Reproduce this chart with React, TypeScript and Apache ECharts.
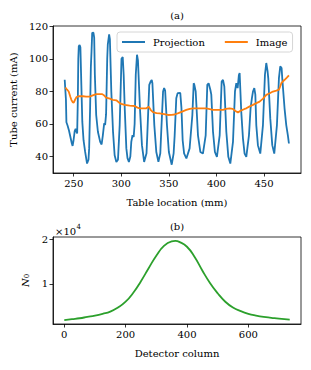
import React, { useEffect, useRef } from "react";
import * as echarts from "echarts";

// ---- Panel (a): tube current vs table location ----
const projX = [
  240.5, 241.2, 241.8, 242.3, 243.5, 245, 246.5, 248, 248.8, 249.8, 251, 252, 253, 253.6, 254.3, 254.8, 255.3, 256.2, 257, 258,
  259, 260.3, 262, 264, 265.5, 266.2, 267.2, 268, 268.7, 269.4, 270.7, 271.5, 272.2, 273.6, 275.4, 277.8, 279.3, 280.6, 282, 283,
  284, 285.2, 285.8, 287.2, 288, 289.5, 291.3, 293, 294.8, 296.5, 298.3, 300.2, 301.5, 302.5, 303.6, 305.3, 306.5, 308, 309.5, 310.5,
  311.8, 313, 314, 315.2, 316.5, 317.5, 319.6, 321.7, 324, 326.5, 327.3, 329.4, 330.8, 332, 332.7, 334.7, 336.8, 339, 341, 341.8,
  343.9, 345, 346.1, 348, 350, 353, 355, 356.1, 357.8, 359.2, 362, 363.2, 364.5, 366, 368.4, 371.8, 374.7, 376.1, 376.8, 378.2,
  380.6, 383.1, 385.8, 388.7, 390.4, 391.8, 393.6, 394.6, 396.4, 398.4, 400.5, 403.4, 405.5, 406.9, 408.3, 410.4, 412.5, 414.6, 417.4, 419.5,
  420.9, 422.3, 423.6, 424.4, 426.1, 427.9, 429.6, 431.4, 434.2, 435.9, 437.3, 438.4, 439.8, 440.9, 441.9, 443.6, 446.1, 448.9, 451, 452.4,
  453.8, 454.5, 456.6, 458.7, 460.8, 463.6, 465.7, 467.1, 468.5, 469.2, 471.6, 473.4, 475.1, 476.2,
];
const projY = [
  87.1, 87, 75, 61, 59, 56, 52, 48, 46.5, 50, 55.6, 57, 55, 54.2, 75, 100, 107.7, 108.5, 107, 84,
  61.4, 50, 42.8, 35.7, 38, 45, 69.6, 95, 104.6, 115.9, 116, 113, 90.2, 65.5, 55.2, 49, 47.4, 53, 60.4, 59.4,
  66, 100, 108.7, 114.9, 112, 79.9, 55.2, 40.8, 36.7, 38, 59.3, 100, 101, 90, 69.6, 45, 39, 36.7, 40, 49,
  53.1, 52, 60, 90.2, 102.5, 99, 69.6, 47, 36.7, 42, 53, 84, 86, 87, 85, 59.3, 42.8, 36.7, 42, 53,
  79.9, 82, 80.4, 59.3, 42.8, 35, 42, 53, 75.8, 78.9, 79, 70, 50, 42, 38.8, 45, 65.5, 85, 84, 79.9,
  53, 42.8, 41.8, 53, 84, 85, 81, 78, 55.2, 42.8, 39.8, 53, 86, 87, 83, 55.2, 39.8, 35.7, 49, 79.9,
  85, 82, 90, 91.2, 67.5, 51, 41.8, 39.8, 53, 69.6, 75.8, 79.9, 82, 78, 59.3, 47, 41.8, 59.3, 90.2, 97.4,
  92.2, 88, 63.4, 47, 41.8, 59.3, 88.1, 95.3, 94.3, 88, 69.6, 59.3, 53, 48,
];
const imageX = [
  241.2, 243, 244.7, 246.5, 247.5, 249, 250, 251.5, 253, 255, 259.7, 263, 266.7, 270, 273.8, 280, 282, 284, 288, 291,
  294.8, 298.3, 300, 303.6, 308.8, 314, 317, 319.3, 323, 326.3, 328.8, 331, 333.3, 337, 340.3, 345, 349, 353, 356, 360,
  364, 368.3, 372, 375.3, 380, 385.8, 389.4, 393, 396.4, 400, 406.9, 410, 413.9, 417, 420, 422.6, 425, 429.6, 431.4, 435,
  438.4, 442, 445.4, 449, 452.4, 456, 459.4, 463, 465.7, 467, 468.2, 470, 471.7, 474, 476.2,
];
const imageY = [
  82.4, 81, 79.9, 76.5, 74.8, 73.2, 73.1, 75, 76.5, 77, 77, 76.8, 76.8, 77.5, 78.3, 78.3, 77.5, 76.2, 75.5, 74.8,
  74.5, 72.8, 72.3, 71.7, 71.2, 71, 70, 69.6, 69.5, 69.6, 70.6, 68.5, 67.2, 66.6, 66.5, 66, 65.5, 65.6, 65.8, 66.6,
  67.6, 68.6, 69.3, 69.6, 69.5, 69.6, 69.5, 69.1, 68.6, 68.6, 68.6, 69.3, 69.6, 69.3, 68, 67.1, 68, 69.2, 69.6, 70.8,
  71.7, 72.8, 73.7, 75.5, 77.8, 78.8, 79.9, 80.5, 81, 83, 85, 86.2, 87.1, 88.4, 89.8,
];
const topXTicks = [250, 300, 350, 400, 450];
const topYTicks = [40, 60, 80, 100, 120];

// ---- Panel (b): N0 vs detector column ----
const detCols = [0, 25, 50, 75, 100, 125, 150, 175, 200, 225, 250, 275, 300, 325, 350, 362, 375, 400, 425, 450, 475, 500, 525, 550, 575, 600, 625, 650, 675, 700, 735];
const n0Vals = [1900, 2100, 2300, 2600, 2900, 3300, 3800, 4700, 6000, 8000, 10600, 13500, 16300, 18500, 19500, 19600, 19400, 18300, 16000, 13000, 10200, 7900, 6000, 4700, 3900, 3300, 2900, 2600, 2400, 2200, 2000];
const botXTicks = [0, 200, 400, 600];
const botYTicks = [10000, 20000];

const FONT = "DejaVu Serif";

export default function App() {
  const ref = useRef<HTMLDivElement>(null);
  useEffect(() => {
    if (!ref.current) return;
    const chart = echarts.init(ref.current, undefined, { renderer: "svg" });
    const tickStyle = { color: "#000", width: 0.8 };
    const labelStyle = { color: "#000", fontSize: 10, fontFamily: FONT };
    const nameStyle = { color: "#000", fontSize: 10, fontFamily: FONT };
    const axisLine = { show: true, onZero: false, lineStyle: tickStyle };
    const option: any = {
      animation: false,
      textStyle: { fontFamily: FONT },
      grid: [
        { left: 53, top: 26, width: 248, height: 147, show: true, borderColor: "#000", borderWidth: 0.8, backgroundColor: "transparent" },
        { left: 53, top: 237, width: 248, height: 87, show: true, borderColor: "#000", borderWidth: 0.8, backgroundColor: "transparent" },
      ],
      xAxis: [
        {
          gridIndex: 0, type: "value", min: 228.2, max: 488.9,
          axisLine,
          splitLine: { show: false },
          axisTick: { show: true, length: 3.5, lineStyle: tickStyle, customValues: topXTicks },
          axisLabel: { ...labelStyle, margin: 5, customValues: topXTicks },
          name: "Table location (mm)", nameLocation: "middle", nameGap: 24, nameTextStyle: nameStyle,
        },
        {
          gridIndex: 1, type: "value", min: -36.75, max: 771.75,
          axisLine,
          splitLine: { show: false },
          axisTick: { show: true, length: 3.5, lineStyle: tickStyle, customValues: botXTicks },
          axisLabel: { ...labelStyle, margin: 5, customValues: botXTicks },
          name: "Detector column", nameLocation: "middle", nameGap: 24, nameTextStyle: nameStyle,
        },
      ],
      yAxis: [
        {
          gridIndex: 0, type: "value", min: 29.9, max: 120.1,
          axisLine,
          splitLine: { show: false },
          axisTick: { show: true, length: 3.5, lineStyle: tickStyle, customValues: topYTicks },
          axisLabel: { ...labelStyle, margin: 5, customValues: topYTicks },
          name: "Tube current (mA)", nameLocation: "middle", nameGap: 31, nameTextStyle: nameStyle,
        },
        {
          gridIndex: 1, type: "value", min: 1015, max: 20485,
          axisLine,
          splitLine: { show: false },
          axisTick: { show: true, length: 3.5, lineStyle: tickStyle, customValues: botYTicks },
          axisLabel: { ...labelStyle, margin: 5, customValues: botYTicks, formatter: (v: number) => String(Math.round(v / 10000)) },
          name: "{n|N}{s|0}", nameLocation: "middle", nameGap: 20,
          nameTextStyle: {
            color: "#000", fontFamily: FONT,
            rich: {
              n: { fontSize: 10, fontStyle: "italic", fontFamily: FONT, color: "#000" },
              s: { fontSize: 7, fontFamily: FONT, color: "#000", verticalAlign: "bottom", padding: [4, 0, 0, 0] },
            },
          },
        },
      ],
      legend: {
        data: [
          { name: "Projection", icon: "rect" },
          { name: "Image", icon: "rect" },
        ],
        left: 117, top: 32,
        itemWidth: 23, itemHeight: 2, itemGap: 20,
        padding: [5, 5, 5, 5],
        borderColor: "#ccc", borderWidth: 0.8, borderRadius: 3,
        backgroundColor: "rgba(255,255,255,0.8)",
        textStyle: { color: "#000", fontSize: 10, fontFamily: FONT, padding: [0, 0, 0, 3] },
      },
      series: [
        {
          name: "Projection", type: "line", xAxisIndex: 0, yAxisIndex: 0,
          data: projX.map((x, i) => [x, projY[i]]),
          symbol: "none", lineStyle: { color: "#1f77b4", width: 1.8 }, itemStyle: { color: "#1f77b4" },
        },
        {
          name: "Image", type: "line", xAxisIndex: 0, yAxisIndex: 0,
          data: imageX.map((x, i) => [x, imageY[i]]),
          symbol: "none", lineStyle: { color: "#ff7f0e", width: 1.8 }, itemStyle: { color: "#ff7f0e" },
        },
        {
          name: "N0", type: "line", xAxisIndex: 1, yAxisIndex: 1,
          data: detCols.map((x, i) => [x, n0Vals[i]]),
          smooth: true,
          symbol: "none", lineStyle: { color: "#2ca02c", width: 1.8 }, itemStyle: { color: "#2ca02c" },
        },
      ],
      graphic: [
        { type: "text", x: 177, y: 15, style: { text: "(a)", fontSize: 10, fontFamily: FONT, fill: "#000", textAlign: "center", textVerticalAlign: "middle" } },
        { type: "text", x: 177, y: 226, style: { text: "(b)", fontSize: 10, fontFamily: FONT, fill: "#000", textAlign: "center", textVerticalAlign: "middle" } },
        { type: "text", x: 55, y: 231, style: { text: "×10", fontSize: 10, fontFamily: FONT, fill: "#000", textAlign: "left", textVerticalAlign: "middle" } },
        { type: "text", x: 76.5, y: 227, style: { text: "4", fontSize: 7, fontFamily: FONT, fill: "#000", textAlign: "left", textVerticalAlign: "middle" } },
      ],
    };
    chart.setOption(option);
    return () => chart.dispose();
  }, []);
  return <div ref={ref} style={{ position: "absolute", left: 0, top: 0, width: 311, height: 370 }} />;
}
